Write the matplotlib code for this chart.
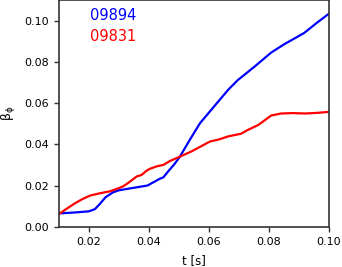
import numpy as np
import matplotlib.pyplot as plt

# shot 09894 (blue)
t_blue = [0.010, 0.015, 0.020, 0.022, 0.0235, 0.0255, 0.028, 0.030, 0.0345, 0.0395,
          0.0435, 0.0448, 0.0467, 0.0485, 0.0503, 0.0535, 0.057, 0.0603, 0.0635, 0.0664,
          0.0696, 0.075, 0.0807, 0.085, 0.0917, 0.096, 0.100]
beta_blue = [0.0066, 0.0070, 0.0076, 0.0087, 0.0110, 0.0144, 0.0168, 0.0178, 0.0189, 0.0201,
             0.0233, 0.0241, 0.0275, 0.0305, 0.0341, 0.0420, 0.0503, 0.0560, 0.0615, 0.0665,
             0.0712, 0.0775, 0.0845, 0.0885, 0.0940, 0.0990, 0.1034]

# shot 09831 (red)
t_red = [0.010, 0.0125, 0.015, 0.0175, 0.0203, 0.0235, 0.027, 0.0295, 0.0314, 0.0335,
         0.0359, 0.0375, 0.0392, 0.0403, 0.0426, 0.0448, 0.047, 0.0503, 0.054, 0.0603,
         0.0635, 0.0664, 0.0707, 0.0729, 0.0765, 0.0807, 0.084, 0.088, 0.092, 0.096, 0.100]
beta_red = [0.0063, 0.0088, 0.0112, 0.0133, 0.0152, 0.0163, 0.0173, 0.0186, 0.0197, 0.0218,
            0.0245, 0.0252, 0.0273, 0.0282, 0.0294, 0.0301, 0.0320, 0.0341, 0.0365, 0.0414,
            0.0425, 0.0439, 0.0452, 0.0470, 0.0495, 0.0540, 0.0550, 0.0552, 0.0550, 0.0553, 0.0558]

fig = plt.figure(figsize=(3.42, 2.67), dpi=100)
ax = fig.add_axes([59 / 342, 40 / 267, 270 / 342, 227 / 267])
ax.plot(t_blue, beta_blue, color='blue', lw=1.6)
ax.plot(t_red, beta_red, color='red', lw=1.6)
ax.text(0.115, 0.932, '09894', color='blue', fontsize=10.5, transform=ax.transAxes, va='center')
ax.text(0.115, 0.84, '09831', color='red', fontsize=10.5, transform=ax.transAxes, va='center')
ax.set_xlim(0.01, 0.10)
ax.set_ylim(0.0, 0.110)
ax.set_xticks([0.02, 0.04, 0.06, 0.08, 0.10])
ax.set_yticks([0.00, 0.02, 0.04, 0.06, 0.08, 0.10])
ax.tick_params(labelsize=8, color='#333333', width=1)
for s in ax.spines.values():
    s.set_color('#333333')
    s.set_linewidth(1.2)
ax.set_xlabel('t [s]', fontsize=8.5, labelpad=5)
ax.set_ylabel(r'$\mathrm{\beta_\phi}$', fontsize=9, labelpad=5)
fig.savefig('out.png', dpi=100)
